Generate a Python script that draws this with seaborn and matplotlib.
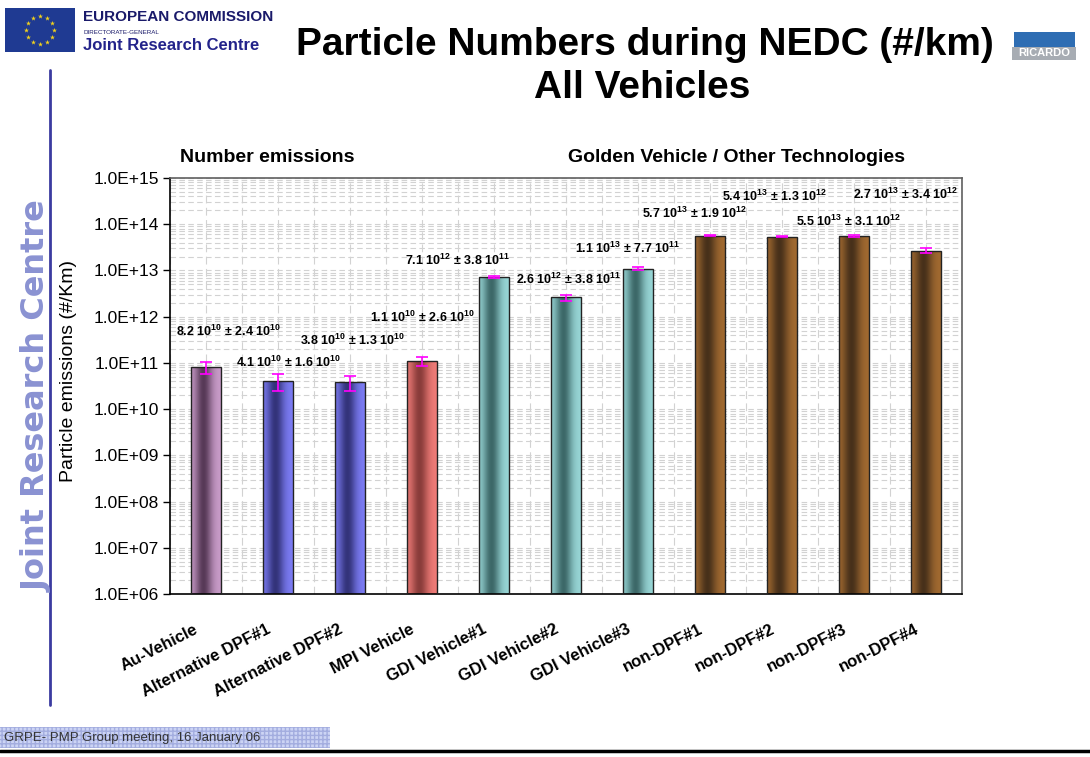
import numpy as np
import pandas as pd
import matplotlib
matplotlib.use("Agg")
import matplotlib.pyplot as plt
import matplotlib.ticker as mticker
import matplotlib.transforms as mtrans
from matplotlib.patches import Rectangle
import seaborn as sns

# Datos
vehiculos = ["Au-Vehicle", "Alternative DPF#1", "Alternative DPF#2", "MPI Vehicle",
             "GDI Vehicle#1", "GDI Vehicle#2", "GDI Vehicle#3",
             "non-DPF#1", "non-DPF#2", "non-DPF#3", "non-DPF#4"]
grupos = ["Au", "DPF", "DPF", "MPI", "GDI", "GDI", "GDI", "nonDPF", "nonDPF", "nonDPF", "nonDPF"]
valores = [8.2e10, 4.1e10, 3.8e10, 1.1e11, 7.1e12, 2.6e12, 1.1e13, 5.7e13, 5.4e13, 5.5e13, 2.7e13]
errores = [2.4e10, 1.6e10, 1.3e10, 2.6e10, 3.8e11, 3.8e11, 7.7e11, 1.9e12, 1.3e12, 3.1e12, 3.4e12]
etiquetas = [
    "8.2 10$^{10}$ ± 2.4 10$^{10}$",
    "4.1 10$^{10}$ ± 1.6 10$^{10}$",
    "3.8 10$^{10}$ ± 1.3 10$^{10}$",
    "1.1 10$^{10}$ ± 2.6 10$^{10}$",
    "7.1 10$^{12}$ ± 3.8 10$^{11}$",
    "2.6 10$^{12}$ ± 3.8 10$^{11}$",
    "1.1 10$^{13}$ ± 7.7 10$^{11}$",
    "5.7 10$^{13}$ ± 1.9 10$^{12}$",
    "5.4 10$^{13}$ ± 1.3 10$^{12}$",
    "5.5 10$^{13}$ ± 3.1 10$^{12}$",
    "2.7 10$^{13}$ ± 3.4 10$^{12}$",
]
# posición de las etiquetas (x en categorías, y en log10)
etiq_x = [0.31, 1.14, 2.03, 3.01, 3.49, 5.03, 5.86, 6.79, 7.90, 8.92, 9.72]
etiq_y = [11.69, 11.02, 11.48, 11.98, 13.22, 12.80, 13.48, 14.24, 14.61, 14.07, 14.65]

colores_claros = {"Au": "#c99cc9", "DPF": "#7c7cf4", "MPI": "#f07c78",
                  "GDI": "#98d6d6", "nonDPF": "#a26a30"}
colores_oscuros = {"Au": "#573957", "DPF": "#33337a", "MPI": "#8a3c3a",
                   "GDI": "#3c6868", "nonDPF": "#47301a"}

Y_MIN, Y_MAX = 1e6, 1e15

sns.set_theme(style="white")
plt.rcParams['font.family'] = ['Liberation Sans', 'DejaVu Sans']
plt.rcParams['text.color'] = 'black'
plt.rcParams['axes.labelcolor'] = 'black'
plt.rcParams['xtick.color'] = 'black'
plt.rcParams['ytick.color'] = 'black'
plt.rcParams['mathtext.fontset'] = 'custom'
plt.rcParams['mathtext.rm'] = 'Liberation Sans:bold'
plt.rcParams['mathtext.bf'] = 'Liberation Sans:bold'
plt.rcParams['mathtext.it'] = 'Liberation Sans:bold'
plt.rcParams['mathtext.default'] = 'rm'

fig = plt.figure(figsize=(10.9, 7.57), dpi=100)
fig.patch.set_facecolor("white")

# capa de decoración en coordenadas de píxel
deco = fig.add_axes([0, 0, 1, 1], zorder=0)
deco.set_xlim(0, 1090)
deco.set_ylim(757, 0)
deco.axis("off")

ax = fig.add_axes([170 / 1090, 163 / 757, 792 / 1090, 416 / 757], zorder=1)

df = pd.DataFrame({"vehiculo": vehiculos, "grupo": grupos, "valor": valores})
sns.barplot(data=df, x="vehiculo", y="valor", hue="grupo", dodge=False,
            palette=colores_claros, width=0.42, errorbar=None, legend=False, ax=ax)
ax.set_yscale("log")
ax.set_ylim(Y_MIN, Y_MAX)
ax.set_xlim(-0.5, len(vehiculos) - 0.5)

# sombreado tipo cilindro
n_tiras = 30
t = (np.arange(n_tiras) + 0.5) / n_tiras
perfil = np.exp(-((t - 0.42) / 0.28) ** 2)
for p in list(ax.patches):
    w = p.get_width()
    tope = p.get_y() + p.get_height()
    if tope <= Y_MIN or w <= 0:
        continue
    idx = int(round(p.get_x() + w / 2))
    g = grupos[idx]
    c1 = np.array(matplotlib.colors.to_rgb(colores_claros[g]))
    c2 = np.array(matplotlib.colors.to_rgb(colores_oscuros[g]))
    cols = [tuple(c1 * (1 - d) + c2 * d) for d in perfil]
    xs = p.get_x() + (np.arange(n_tiras) + 0.5) * w / n_tiras
    ax.bar(xs, tope - Y_MIN, width=w / n_tiras * 1.08, bottom=Y_MIN,
           color=cols, linewidth=0, zorder=2.5)
    p.set_y(Y_MIN)
    p.set_height(tope - Y_MIN)
    p.set_facecolor("none")
    p.set_edgecolor("#222222")
    p.set_linewidth(1.0)
    p.set_zorder(3)

ax.errorbar(np.arange(len(vehiculos)), valores, yerr=errores, fmt="none",
            ecolor="#ff00ff", elinewidth=1.2, capsize=4, capthick=1.2, zorder=4)

for tx, ty, lab in zip(etiq_x, etiq_y, etiquetas):
    ax.text(tx, 10 ** ty, lab, ha="center", va="center", fontsize=9,
            fontweight="bold", color="black", zorder=5)

# ejes y rejilla
ax.yaxis.set_major_locator(mticker.LogLocator(base=10, numticks=20))
ax.yaxis.set_minor_locator(mticker.LogLocator(base=10, subs=np.arange(2, 10), numticks=20))
ax.yaxis.set_major_formatter(mticker.FuncFormatter(lambda v, pos: f"{v:.1E}"))
ax.yaxis.set_minor_formatter(mticker.NullFormatter())
ax.set_xticks(np.arange(len(vehiculos)))
ax.set_xticks(np.arange(-0.5, len(vehiculos), 1.0), minor=True)
ax.set_xticklabels(vehiculos, rotation=27, ha="right", rotation_mode="anchor",
                   fontsize=12, fontweight="bold")
ax.tick_params(axis="x", which="major", length=0, pad=20)
ax.tick_params(axis="x", which="minor", length=5, width=1, direction="out", color="black")
ax.tick_params(axis="y", which="major", length=5, width=1, direction="out",
               color="black", labelsize=12.5, left=True, pad=3)
ax.tick_params(axis="y", which="minor", length=0)
# desplazar las etiquetas del eje x un poco a la izquierda
desplaza = mtrans.ScaledTranslation(-12 / 100, 0, fig.dpi_scale_trans)
for lab in ax.get_xticklabels():
    lab.set_transform(lab.get_transform() + desplaza)
ax.grid(True, axis="y", which="both", color="#d2d2d2", linestyle=(0, (5, 3)), linewidth=0.8)
ax.grid(True, axis="x", which="both", color="#d2d2d2", linestyle=(0, (7, 4)), linewidth=0.8)
ax.set_axisbelow(True)
ax.set_xlabel("")
ax.set_ylabel("Particle emissions (#/Km)", fontsize=14)
ax.yaxis.set_label_coords(-0.117, 0.536)
for s in ["left", "bottom"]:
    ax.spines[s].set_color("black")
    ax.spines[s].set_linewidth(1.2)
for s in ["top", "right"]:
    ax.spines[s].set_color("#606060")
    ax.spines[s].set_linewidth(1.2)
ax.set_facecolor("white")

# títulos de sección
deco.text(267, 158, "Number emissions", ha="center", va="center",
          fontsize=14, fontweight="bold")
deco.text(736, 158, "Golden Vehicle / Other Technologies", ha="center", va="center",
          fontsize=14, fontweight="bold")

# título principal
fam_narrow = ['Liberation Sans Narrow', 'Liberation Sans', 'DejaVu Sans']
deco.text(645, 45, "Particle Numbers during NEDC (#/km)", ha="center", va="center",
          fontsize=28, fontweight="bold", family=fam_narrow, color="black")
deco.text(642, 88, "All Vehicles", ha="center", va="center",
          fontsize=28, fontweight="bold", family=fam_narrow, color="black")

# logo Comisión Europea
deco.add_patch(Rectangle((5, 8), 70, 44, facecolor="#1f3a92", edgecolor="none"))
ang = np.linspace(0, 2 * np.pi, 12, endpoint=False)
deco.scatter(40 + 14 * np.cos(ang), 30 + 14 * np.sin(ang), marker="*", s=14,
             color="#f2d21c", linewidths=0)
deco.text(83, 17, "EUROPEAN COMMISSION", ha="left", va="center", fontsize=11,
          fontweight="bold", color="#1a1a6a")
deco.text(84, 32, "DIRECTORATE-GENERAL", ha="left", va="center", fontsize=4.5,
          color="#1a1a6a")
deco.text(83, 46, "Joint Research Centre", ha="left", va="center", fontsize=12,
          fontweight="bold", color="#23238a", family=fam_narrow)

# logo Ricardo
deco.add_patch(Rectangle((1014, 32), 61, 15, facecolor="#2e6db3", edgecolor="none"))
deco.add_patch(Rectangle((1012, 47), 64, 13, facecolor="#a7acb3", edgecolor="none"))
deco.text(1044, 53.5, "RICARDO", ha="center", va="center", fontsize=8,
          fontweight="bold", color="white", family=fam_narrow)

# barra lateral
deco.plot([50, 50], [70, 705], color="#3b3ba0", linewidth=2)
deco.text(37, 396, "Joint Research Centre", rotation=90, ha="center", va="center",
          fontsize=23, fontweight="bold", color="#8a92d2", family=['DejaVu Sans'])

# pie de página
deco.add_patch(Rectangle((0, 727), 330, 21, facecolor="#ccd4f4", edgecolor="#a3addf",
                         hatch="++++", linewidth=0))
deco.text(4, 738, "GRPE- PMP Group meeting, 16 January 06", ha="left", va="center",
          fontsize=9.5, color="#333333", family=fam_narrow)
deco.plot([0, 1090], [751, 751], color="black", linewidth=2.5)

fig.savefig("out.png", dpi=100)
